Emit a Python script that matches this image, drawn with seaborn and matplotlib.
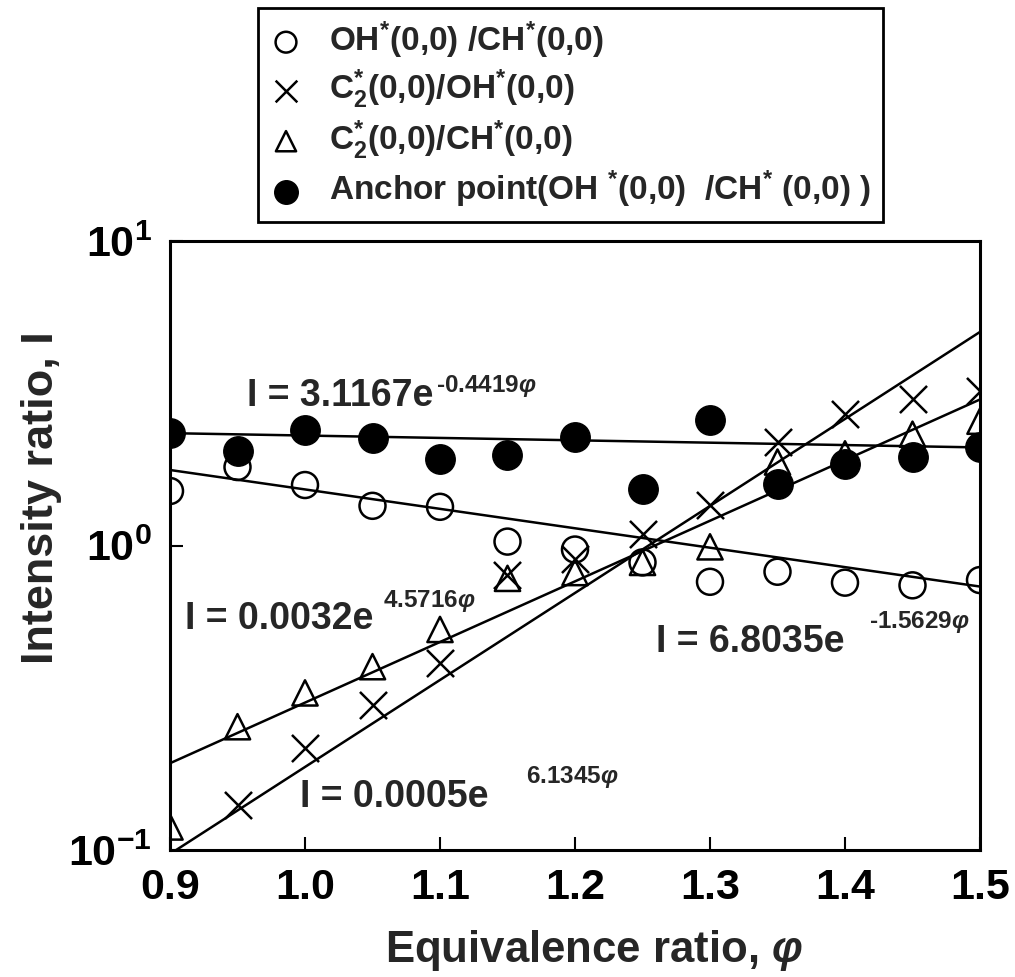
import numpy as np
import pandas as pd
import matplotlib
matplotlib.use("Agg")
import matplotlib.pyplot as plt
import seaborn as sns
from matplotlib import font_manager as fm
from matplotlib.ticker import FixedLocator, FixedFormatter, NullLocator

# ---------------- data ----------------
phi = [0.90, 0.95, 1.00, 1.05, 1.10, 1.15, 1.20, 1.25, 1.30, 1.35, 1.40, 1.45, 1.50]
oh_ch = [1.51, 1.81, 1.58, 1.35, 1.34, 1.03, 0.97, 0.88, 0.76, 0.82, 0.755, 0.74, 0.77]
anchor = [2.35, 2.05, 2.39, 2.25, 1.93, 1.98, 2.28, 1.53, 2.58, 1.59, 1.85, 1.95, 2.10]
phi_c2oh = [0.95, 1.00, 1.05, 1.10, 1.15, 1.20, 1.25, 1.30, 1.35, 1.40, 1.45, 1.50]
c2_oh = [0.141, 0.217, 0.30, 0.41, 0.80, 0.90, 1.09, 1.36, 2.18, 2.70, 3.02, 3.21]
c2_ch = [0.119, 0.254, 0.328, 0.40, 0.53, 0.78, 0.815, 0.88, 0.99, 1.88, 2.00, 2.32, 2.56]

# exponential fit lines I = a * exp(b * phi), as drawn in the figure
fit_anchor = (2.75, -0.180)
fit_ohch = (6.64, -1.469)
fit_c2ch = (0.00311, 4.585)
fit_c2oh = (0.00026, 6.58)

legend_labels = [
    r"OH$^{*}$(0,0) /CH$^{*}$(0,0)",
    r"C$_{2}^{*}$(0,0)/OH$^{*}$(0,0)",
    r"C$_{2}^{*}$(0,0)/CH$^{*}$(0,0)",
    r"Anchor point(OH $^{*}$(0,0)  /CH$^{*}$ (0,0) )",
]
eq_base = ["I = 3.1167e", "I = 0.0032e", "I = 6.8035e", "I = 0.0005e"]
eq_exp = ["-0.4419", "4.5716", "-1.5629", "6.1345"]
eq_base_pos = [(0.957, 2.87), (0.911, 0.53), (1.260, 0.448), (0.9965, 0.138)]
eq_exp_pos = [(1.0968, 3.19), (1.0576, 0.63), (1.4176, 0.537), (1.1636, 0.166)]

x_ticks = [0.9, 1.0, 1.1, 1.2, 1.3, 1.4, 1.5]
x_ticklabels = ["0.9", "1.0", "1.1", "1.2", "1.3", "1.4", "1.5"]
y_ticks = [0.1, 1.0, 10.0]
y_ticklabels = [r"$\mathdefault{10^{-1}}$", r"$\mathdefault{10^{0}}$", r"$\mathdefault{10^{1}}$"]

# ---------------- style ----------------
sns.set_style("ticks")
names = {f.name for f in fm.fontManager.ttflist}
NARROW = "Liberation Sans Narrow" in names
base = "Liberation Sans Narrow" if NARROW else "Liberation Sans"
k = 1.16 if NARROW else 1.0
plt.rcParams["font.family"] = [base, "Liberation Sans", "DejaVu Sans"]
plt.rcParams["font.weight"] = "bold"
plt.rcParams["mathtext.fontset"] = "custom"
plt.rcParams["mathtext.default"] = "regular"
plt.rcParams["mathtext.rm"] = f"{base}:bold"
plt.rcParams["mathtext.it"] = f"{base}:italic:bold"
plt.rcParams["mathtext.bf"] = f"{base}:bold"

fig = plt.figure(figsize=(10.15, 9.77), dpi=100)
ax = fig.add_axes([170 / 1015, 0.13, 810 / 1015, 0.6233])

grid = np.linspace(0.9, 1.5, 200)
for a, b in [fit_anchor, fit_ohch, fit_c2ch, fit_c2oh]:
    sns.lineplot(x=grid, y=a * np.exp(b * grid), color="black", linewidth=1.8, ax=ax)

mew = 1.8
h_oh = sns.scatterplot(x=phi, y=oh_ch, marker="o", s=350, facecolor="none",
                       edgecolor="black", linewidth=mew, ax=ax, zorder=3).collections[-1]
h_c2oh = sns.scatterplot(x=phi_c2oh, y=c2_oh, marker="x", s=380, color="black",
                         linewidth=mew, ax=ax, zorder=3).collections[-1]
h_c2ch = sns.scatterplot(x=phi, y=c2_ch, marker="^", s=330, facecolor="none",
                         edgecolor="black", linewidth=mew, ax=ax, zorder=3).collections[-1]
h_anc = sns.scatterplot(x=phi, y=anchor, marker="o", s=450, color="black",
                        edgecolor="black", linewidth=1, ax=ax, zorder=4).collections[-1]

ax.set_yscale("log")
ax.set_xlim(0.9, 1.5)
ax.set_ylim(0.1, 10)
ax.xaxis.set_major_locator(FixedLocator(x_ticks))
ax.xaxis.set_major_formatter(FixedFormatter(x_ticklabels))
ax.xaxis.set_minor_locator(NullLocator())
ax.yaxis.set_major_locator(FixedLocator(y_ticks))
ax.yaxis.set_major_formatter(FixedFormatter(y_ticklabels))
ax.yaxis.set_minor_locator(NullLocator())
ax.tick_params(axis="both", which="major", direction="in", length=9.5, width=1.5,
               colors="black", labelsize=31 * k)
ax.tick_params(axis="x", pad=13)
ax.tick_params(axis="y", pad=13)
for lab in ax.get_xticklabels() + ax.get_yticklabels():
    lab.set_fontweight("bold")
for sp in ax.spines.values():
    sp.set_linewidth(2.2)
    sp.set_color("black")
    sp.set_visible(True)

ax.set_xlabel(r"Equivalence ratio, $\mathit{φ}$", fontsize=31.5 * k, fontweight="bold")
ax.set_ylabel("Intensity ratio, I", fontsize=32.5 * k, fontweight="bold")
ax.xaxis.set_label_coords(0.523, -0.128)
ax.yaxis.set_label_coords(-0.133, 0.578)

for t, (x, y) in zip(eq_base, eq_base_pos):
    ax.text(x, y, t, fontsize=27 * k, fontweight="bold", va="baseline", ha="left")
for t, (x, y) in zip(eq_exp, eq_exp_pos):
    ax.text(x, y, t + r"$\mathit{φ}$", fontsize=17.5 * k, fontweight="bold",
            va="baseline", ha="left")

leg = ax.legend([h_oh, h_c2oh, h_c2ch, h_anc], legend_labels,
                loc="upper left", bbox_to_anchor=(258 / 1015, 1 - 8 / 977),
                bbox_transform=fig.transFigure, frameon=True, fancybox=False,
                edgecolor="black", framealpha=1, fontsize=24 * k,
                markerscale=0.8, handlelength=1.0, handletextpad=0.8,
                labelspacing=0.21, borderpad=0.34, borderaxespad=0)
leg.get_frame().set_linewidth(2)
for t in leg.get_texts():
    t.set_fontweight("bold")

fig.savefig("out.png", dpi=100, facecolor="white")
